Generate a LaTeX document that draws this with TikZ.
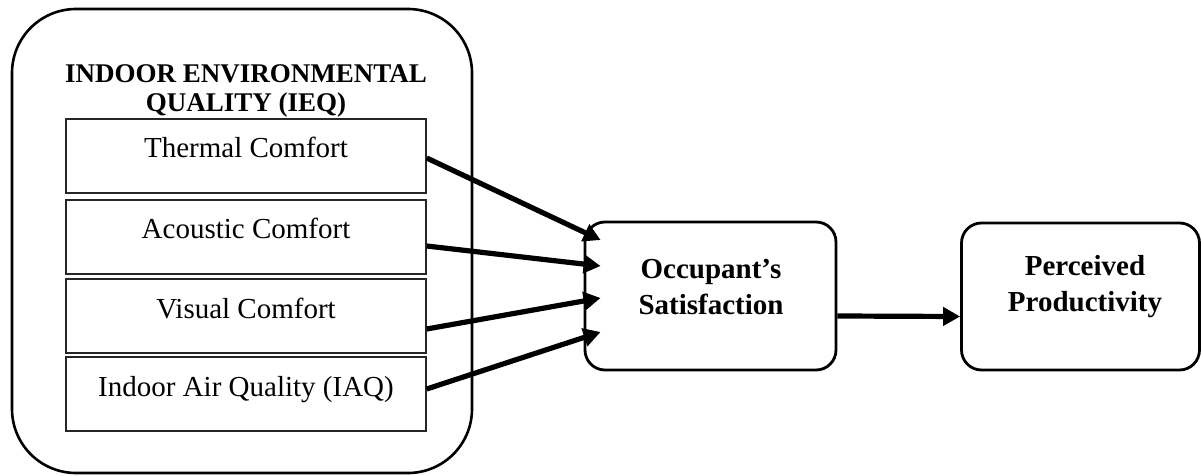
\documentclass[tikz,border=0pt]{standalone}
\usepackage{fontspec}
\setmainfont{Liberation Serif}
\usetikzlibrary{arrows.meta}
\begin{document}
\begin{tikzpicture}[x=0.5pt,y=-0.5pt,
  outer/.style={draw, line width=1.3pt, rounded corners=32pt, minimum width=230pt, minimum height=232pt, inner sep=0pt},
  factor/.style={draw=black!85, line width=0.7pt, minimum width=180pt, minimum height=37pt, inner sep=0pt, text height=19.5pt, text depth=17.5pt, font=\fontsize{14.5}{17}\selectfont},
  roundbox/.style={draw, line width=1.4pt, rounded corners=10pt, inner sep=0pt},
  boldtext/.style={align=center, font=\fontsize{14.5}{18}\selectfont\bfseries},
  titletext/.style={align=center, font=\fontsize{13.5}{14.5}\selectfont\bfseries},
  link/.style={line width=2.6pt, -{Triangle[length=8.5pt,width=9pt]}}
]
\useasboundingbox (0,0) rectangle (1201,476);

\node[outer] (ieq) at (242,241) {};
\node[titletext] (title) at (246,91) {INDOOR ENVIRONMENTAL\\QUALITY (IEQ)};

\node[factor] (thermal) at (246,156) {Thermal Comfort};
\node[factor] (acoustic) at (246,237) {Acoustic Comfort};
\node[factor] (visual) at (246,316) {Visual Comfort};
\node[factor] (iaq) at (246,394) {Indoor Air Quality (IAQ)};

\node[roundbox, minimum width=125.5pt, minimum height=74pt] (occ) at (710.5,296) {};
\node[boldtext] (occtext) at (711,287) {Occupant’s\\Satisfaction};

\node[roundbox, minimum width=119pt, minimum height=73.5pt] (perc) at (1080.5,296.5) {};
\node[boldtext] (perctext) at (1085,287) {Perceived\\Productivity};

\draw[link] ([yshift=-1pt]thermal.east) -- ([xshift=8.5pt,yshift=28pt]occ.west);
\draw[link] ([yshift=-4.5pt]acoustic.east) -- ([xshift=8.5pt,yshift=15pt]occ.west);
\draw[link] ([yshift=-6.5pt]visual.east) -- ([xshift=8.5pt,yshift=-1pt]occ.west);
\draw[link] ([yshift=2.5pt]iaq.east) -- ([xshift=8.5pt,yshift=-18pt]occ.west);

\draw[link] ([yshift=-10pt]occ.east) -- ([yshift=-10pt]perc.west);
\end{tikzpicture}
\end{document}
